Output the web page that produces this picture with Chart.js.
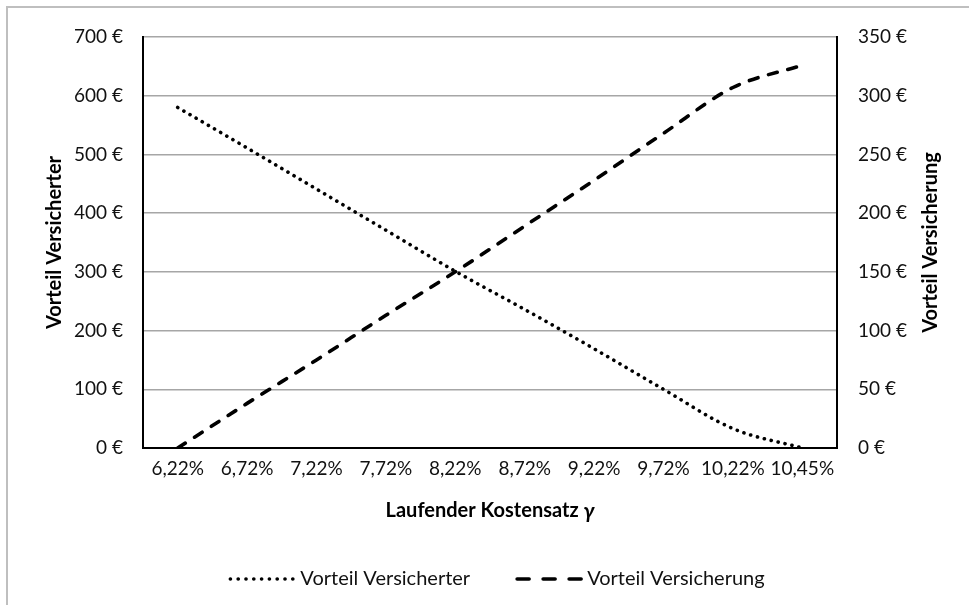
<!DOCTYPE html>
<html>
<head>
<meta charset="utf-8">
<script src="https://cdn.jsdelivr.net/npm/chart.js@4"></script>
<style>
  html, body { margin: 0; padding: 0; background: #ffffff; }
  #wrap { width: 969px; height: 605px; position: relative; overflow: hidden; }
</style>
</head>
<body>
<div id="wrap"><canvas id="c" width="969" height="605"></canvas></div>
<script>
const categories = ['6,22%', '6,72%', '7,22%', '7,72%', '8,22%', '8,72%', '9,22%', '9,72%', '10,22%', '10,45%'];
const vorteilVersicherter = [580, 511, 441, 371, 301, 236, 169, 100, 33, 0];
const vorteilVersicherung = [0, 38, 75, 113, 150, 189, 228, 268, 307, 326];
const leftTicks = [0, 100, 200, 300, 400, 500, 600, 700];
const rightTicks = [0, 50, 100, 150, 200, 250, 300, 350];
const seriesNames = ['Vorteil Versicherter', 'Vorteil Versicherung'];
const xTitleMain = 'Laufender Kostensatz ';
const xTitleSymbol = 'γ';
const leftTitle = 'Vorteil Versicherter';
const rightTitle = 'Vorteil Versicherung';

const FONT = 'Lato, "Open Sans", sans-serif';
const TXT = '#111111';
const SAMPLE_W = 68;
const TICK_SIZE = 19;
const TITLE_SIZE = 20;
const LEGEND_SIZE = 20;
const LEGEND_GAP = 45;       // horizontal gap between legend entries
const LEGEND_RESERVED = 44;  // vertical room kept for the legend
const LEGEND_SHIFT = 33;
const LEGEND_XSHIFT = 8;

const framePlugin = {
  id: 'frame',
  afterInit(chart) {
    const lg = chart.legend;
    if (lg && !lg._patched) {
      const orig = lg.fit;
      lg.fit = function () { orig.call(this); this.height = LEGEND_RESERVED; };
      lg._patched = true;
    }
  },
  afterLayout(chart) {
    const lg = chart.legend;
    if (lg) {
      lg.top -= LEGEND_SHIFT;
      lg.height = lg.bottom - lg.top;
      lg.left += LEGEND_XSHIFT;
      lg.right += LEGEND_XSHIFT;
    }
  },
  beforeDraw(chart) {
    const ctx = chart.ctx;
    ctx.save();
    ctx.fillStyle = '#ffffff';
    ctx.fillRect(0, 0, chart.width, chart.height);
    ctx.strokeStyle = '#bfbfbf';
    ctx.lineWidth = 2;
    ctx.beginPath();
    ctx.moveTo(7, chart.height + 5);
    ctx.lineTo(7, 7);
    ctx.lineTo(chart.width + 5, 7);
    ctx.stroke();
    ctx.restore();
  },
  afterDraw(chart) {
    const ctx = chart.ctx;
    const area = chart.chartArea;
    ctx.save();
    // x-axis title with italic gamma
    ctx.fillStyle = '#000';
    ctx.textBaseline = 'middle';
    const fMain = 'bold ' + TITLE_SIZE + 'px ' + FONT;
    const fSym = 'italic bold ' + (TITLE_SIZE + 1) + 'px ' + FONT;
    ctx.font = fMain;
    const w1 = ctx.measureText(xTitleMain).width;
    ctx.font = fSym;
    const w2 = ctx.measureText(xTitleSymbol).width;
    const cx = (area.left + area.right) / 2;
    const x0 = cx - (w1 + w2) / 2;
    ctx.textAlign = 'left';
    ctx.font = fMain;
    ctx.fillText(xTitleMain, x0, 511);
    ctx.font = fSym;
    ctx.fillText(xTitleSymbol, x0 + w1, 511);
    // right-axis title, reading bottom to top
    ctx.translate(931, (area.top + area.bottom) / 2);
    ctx.rotate(-Math.PI / 2);
    ctx.textAlign = 'center';
    ctx.font = 'bold ' + TITLE_SIZE + 'px ' + FONT;
    ctx.fillText(rightTitle, 0, 0);
    ctx.restore();
    // legend line samples
    const boxes = chart.legend && chart.legend.legendHitBoxes;
    if (boxes) {
      boxes.forEach((b, i) => {
        const ds = chart.data.datasets[i];
        const y = b.top + b.height / 2;
        ctx.save();
        ctx.strokeStyle = ds.borderColor;
        ctx.lineWidth = ds.borderWidth;
        ctx.lineCap = ds.borderCapStyle;
        ctx.setLineDash(ds.legendDash);
        ctx.beginPath();
        ctx.moveTo(b.left + 2, y);
        ctx.lineTo(b.left + SAMPLE_W - 2, y);
        ctx.stroke();
        ctx.restore();
      });
    }
  }
};

new Chart(document.getElementById('c'), {
  type: 'line',
  data: {
    labels: categories,
    datasets: [
      {
        label: seriesNames[0],
        data: vorteilVersicherter,
        yAxisID: 'yL',
        borderColor: '#000000',
        backgroundColor: '#000000',
        borderWidth: 3.6,
        borderDash: [0.1, 7],
        legendDash: [0.1, 7.7],
        borderCapStyle: 'round',
        cubicInterpolationMode: 'monotone',
        pointRadius: 0,
        pointHoverRadius: 0,
        pointStyle: 'line',
        fill: false
      },
      {
        label: seriesNames[1],
        data: vorteilVersicherung,
        yAxisID: 'yR',
        borderColor: '#000000',
        backgroundColor: '#000000',
        borderWidth: 3.6,
        borderDash: [9, 11],
        legendDash: [12, 14],
        borderCapStyle: 'round',
        cubicInterpolationMode: 'monotone',
        pointRadius: 0,
        pointHoverRadius: 0,
        pointStyle: 'line',
        fill: false
      }
    ]
  },
  options: {
    responsive: false,
    animation: false,
    events: [],
    layout: { padding: { left: 8, top: 37, right: 0, bottom: 4 } },
    plugins: {
      tooltip: { enabled: false },
      legend: {
        position: 'bottom',
        labels: {
          usePointStyle: true,
          pointStyleWidth: SAMPLE_W - 6,
          color: TXT,
          font: { family: FONT, size: LEGEND_SIZE },
          padding: LEGEND_GAP,
          generateLabels(chart) {
            const items = Chart.defaults.plugins.legend.labels.generateLabels(chart);
            return items.map(it => Object.assign(it, {
              lineWidth: 0,
              strokeStyle: 'rgba(0,0,0,0)',
              fillStyle: 'rgba(0,0,0,0)'
            }));
          }
        }
      }
    },
    scales: {
      x: {
        type: 'category',
        offset: true,
        grid: { display: false, drawTicks: false },
        border: { display: true, color: '#000000', width: 2 },
        ticks: { color: TXT, font: { family: FONT, size: TICK_SIZE }, padding: 9, maxRotation: 0, autoSkip: false },
        title: { display: false },
        afterFit(scale) { scale.height = 109; }
      },
      yL: {
        position: 'left',
        min: 0,
        max: 700,
        afterBuildTicks(scale) { scale.ticks = leftTicks.map(v => ({ value: v })); },
        ticks: { color: TXT, font: { family: FONT, size: TICK_SIZE }, padding: 20, callback: v => v + ' €' },
        grid: { color: '#a6a6a6', lineWidth: 1.5, drawTicks: false },
        border: { display: true, color: '#000000', width: 2 },
        title: { display: true, text: leftTitle, color: '#000', font: { family: FONT, size: TITLE_SIZE, weight: 'bold' }, padding: { top: 35, bottom: 0 } },
        afterFit(scale) { scale.width = 135; }
      },
      yR: {
        position: 'right',
        min: 0,
        max: 350,
        afterBuildTicks(scale) { scale.ticks = rightTicks.map(v => ({ value: v })); },
        ticks: { color: TXT, font: { family: FONT, size: TICK_SIZE }, padding: 21, callback: v => v + ' €' },
        grid: { display: false, drawOnChartArea: false, drawTicks: false },
        border: { display: true, color: '#000000', width: 2 },
        title: { display: false },
        afterFit(scale) { scale.width = 132; }
      }
    }
  },
  plugins: [framePlugin]
});
</script>
</body>
</html>
